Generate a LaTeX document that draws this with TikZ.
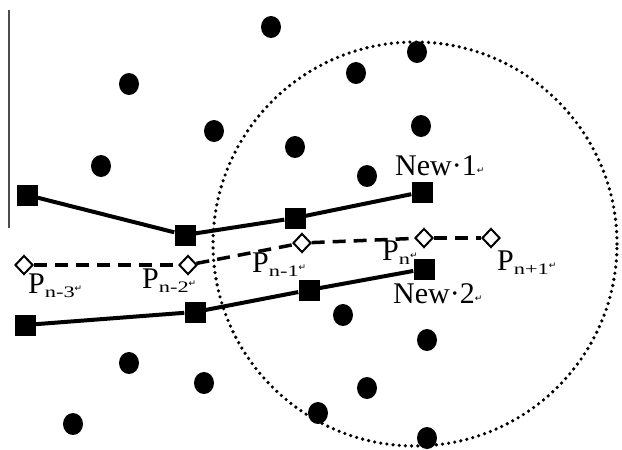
\documentclass[tikz,border=0pt]{standalone}
\usepackage{graphicx}
\usepackage{fontspec}
\setmainfont{Liberation Serif}
\newfontfamily\markfont{DejaVu Sans}
\usetikzlibrary{positioning, shapes.geometric}

\newcommand{\retmark}{{\markfont\fontsize{9}{9}\selectfont\raisebox{0.15em}{↵}}}
\newcommand{\psub}[1]{P\raisebox{-4pt}{\scalebox{1.4}[1]{\fontsize{16}{16}\selectfont #1}}\retmark}

\begin{document}
\begin{tikzpicture}[x=1pt, y=-1pt,
    font=\fontsize{30}{30}\selectfont,
    dot/.style={ellipse, fill=black, inner sep=0pt, minimum width=20pt, minimum height=22pt},
    sq/.style={rectangle, fill=black, inner sep=0pt, minimum size=21pt},
    pt/.style={diamond, draw=black, line width=2pt, fill=white, inner sep=0pt, minimum width=18pt, minimum height=19pt},
    lbl/.style={inner sep=0pt, anchor=base west},
    trackline/.style={line width=4pt},
    pred/.style={line width=3.5pt, dash pattern=on 13pt off 8pt}]
  \useasboundingbox (0,0) rectangle (622,450);

  % left edge mark
  \coordinate (e1) at (9,10);
  \coordinate (e2) at (9,228);
  \draw[black!70, line width=1.2pt] (e1) -- (e2);

  % search circle
  \draw[line width=3.6pt, line cap=round, dash pattern=on 0pt off 6.2pt] (415,244) circle (202pt);

  % scattered points
  \foreach \x/\y [count=\i] in {271/27, 129/84, 356/73, 417/52, 214/131, 421/126,
      295/147, 101/166, 367/176, 343/315, 427/340, 129/363, 204/383, 367/388,
      73/424, 318/413, 427/438}
    \node[dot] (d\i) at (\x,\y) {};

  % track 1
  \node[sq] (a1) at (27,195) {};
  \node[sq] (a2) at (185,235) {};
  \node[sq] (a3) at (295,218) {};
  \node[sq] (a4) at (422,192) {};

  % track 2
  \node[sq] (b1) at (25,325) {};
  \node[sq] (b2) at (195,312) {};
  \node[sq] (b3) at (309,290) {};
  \node[sq] (b4) at (424,269) {};

  \draw[trackline] (a1) -- (a2) -- (a3) -- (a4);
  \draw[trackline] (b1) -- (b2) -- (b3) -- (b4);

  % predicted points
  \node[pt] (p1) at (24,265) {};
  \node[pt] (p2) at (188,265) {};
  \node[pt] (p3) at (302,243) {};
  \node[pt] (p4) at (424,238) {};
  \node[pt] (p5) at (491,238) {};

  \draw[pred] (p1) -- (p2);
  \draw[pred] (p2) -- (p3);
  \draw[pred] (p3) -- (p4);
  \draw[pred] (p4) -- (p5);

  % labels
  \node[lbl] (l1) at (28,293) {\psub{n-3}};
  \node[lbl] (l2) at (142,288) {\psub{n-2}};
  \node[lbl] (l3) at (252,272) {\psub{n-1}};
  \node[lbl] (l4) at (382,260) {\psub{n}};
  \node[lbl] (l5) at (497,270) {\psub{n+1}};
  \node[lbl] (n1) at (395,175) {New·1\retmark};
  \node[lbl] (n2) at (393,303) {New·2\retmark};
\end{tikzpicture}
\end{document}
